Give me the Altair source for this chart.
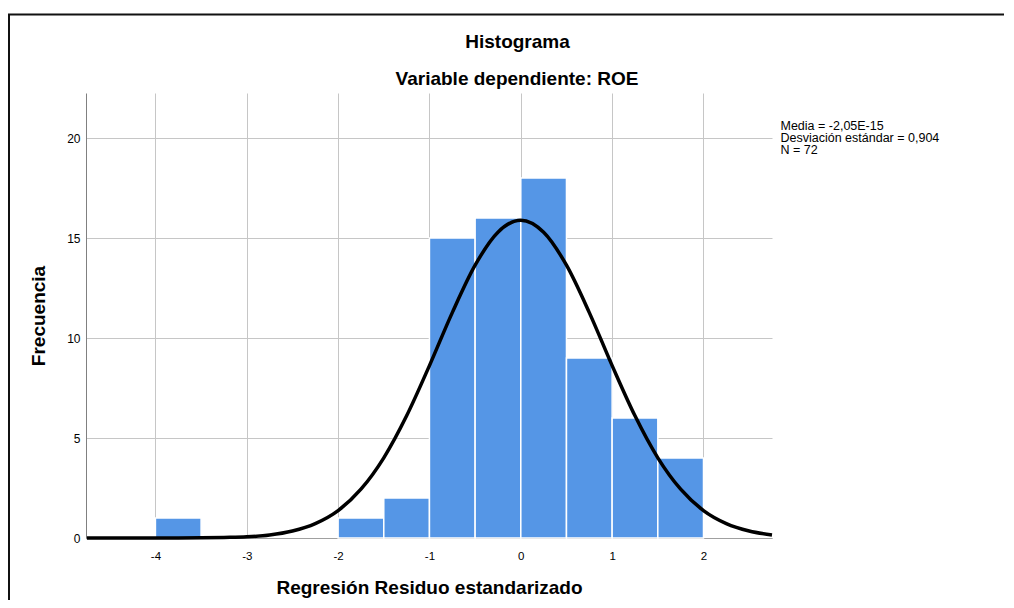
import altair as alt
import pandas as pd

# Histogram bins (width 0.5) and frequencies
bin_start = [-4.0, -2.0, -1.5, -1.0, -0.5, 0.0, 0.5, 1.0, 1.5]
bin_end = [-3.5, -1.5, -1.0, -0.5, 0.0, 0.5, 1.0, 1.5, 2.0]
counts = [1, 1, 2, 15, 16, 18, 9, 6, 4]

# Normal curve points
curve_x = [-4.75, -4.5, -4.25, -4.0, -3.75, -3.5, -3.25, -3.0, -2.75, -2.5, -2.25,
           -2.0, -1.75, -1.5, -1.25, -1.0, -0.75, -0.5, -0.25, 0.0, 0.25, 0.5,
           0.75, 1.0, 1.25, 1.5, 1.75, 2.0, 2.25, 2.5, 2.75]
curve_y = [0.0, 0.0, 0.0, 0.0, 0.0, 0.01, 0.03, 0.06, 0.15, 0.35, 0.72,
           1.37, 2.44, 4.01, 6.11, 8.62, 11.27, 13.64, 15.29, 15.89, 15.29, 13.64,
           11.27, 8.62, 6.11, 4.01, 2.44, 1.37, 0.72, 0.35, 0.15]

x_ticks = [-4, -3, -2, -1, 0, 1, 2]
y_ticks = [0, 5, 10, 15, 20]
stats_lines = ["Media = -2,05E-15", "Desviación estándar = 0,904", "N = 72"]
title_text = "Histograma"
subtitle_text = "Variable dependiente: ROE"

FONT = "Liberation Sans"

bars_df = pd.DataFrame({"start": bin_start, "end": bin_end, "count": counts})
curve_df = pd.DataFrame({"x": curve_x, "y": curve_y})

x_scale = alt.Scale(domain=[-4.76, 2.75], nice=False, zero=False)
y_scale = alt.Scale(domain=[0, 22.25], nice=False)

x_axis = alt.Axis(values=x_ticks, grid=True, gridColor="#c6c6c6", ticks=False,
                  domainColor="#a0a0a0", labelExpr="datum.value + ''",
                  labelFontSize=11.5, labelPadding=12, labelColor="#000",
                  title="Regresión Residuo estandarizado", titleFontSize=19,
                  titleFontWeight="bold", titlePadding=17, titleColor="#000")
y_axis = alt.Axis(values=y_ticks, grid=True, gridColor="#c6c6c6", ticks=False,
                  domainColor="#808080", labelFontSize=12, labelPadding=6,
                  labelColor="#000", title="Frecuencia", titleFontSize=19,
                  titleFontWeight="bold", titlePadding=18, titleColor="#000")

bars = alt.Chart(bars_df).mark_bar(color="#5596e6", stroke="white", strokeWidth=1.5).encode(
    x=alt.X("start:Q", scale=x_scale, axis=x_axis),
    x2="end:Q",
    y=alt.Y("count:Q", scale=y_scale, axis=y_axis),
    y2=alt.datum(0),
)

curve = alt.Chart(curve_df).mark_line(color="black", strokeWidth=3.5,
                                      interpolate="monotone").encode(
    x=alt.X("x:Q", scale=x_scale),
    y=alt.Y("y:Q", scale=y_scale),
)

one = pd.DataFrame({"k": [0]})
stats = alt.Chart(one).mark_text(text=stats_lines, align="left", baseline="alphabetic",
                                 fontSize=12.5, lineHeight=12, font=FONT,
                                 color="#000").encode(
    x=alt.value(694.5), y=alt.value(37)
)

title_mark = alt.Chart(one).mark_text(text=title_text, align="center", baseline="alphabetic",
                                      fontSize=19, fontWeight="bold", font=FONT,
                                      color="#000").encode(
    x=alt.value(431.5), y=alt.value(-44.7)
)
subtitle_mark = alt.Chart(one).mark_text(text=subtitle_text, align="center",
                                         baseline="alphabetic", fontSize=19,
                                         fontWeight="bold", font=FONT,
                                         color="#000").encode(
    x=alt.value(431), y=alt.value(-8)
)

frame_left = alt.Chart(one).mark_rule(color="#111", strokeWidth=2).encode(
    x=alt.value(-77), y=alt.value(-79), y2=alt.value(560)
)
frame_top = alt.Chart(one).mark_rule(color="#111", strokeWidth=2).encode(
    x=alt.value(-78), x2=alt.value(1000), y=alt.value(-78.5)
)

chart = alt.layer(bars, curve, stats, title_mark, subtitle_mark,
                  frame_left, frame_top).properties(
    width=686, height=445,
    autosize=alt.AutoSizeParams(type="none"),
    padding={"left": 78, "top": 85, "right": 232, "bottom": 62},
).configure(font=FONT).configure_view(stroke=None).configure_axis(
    labelFont=FONT, titleFont=FONT
)

chart.save("out.html", embed_options={"renderer": "svg", "actions": False})
